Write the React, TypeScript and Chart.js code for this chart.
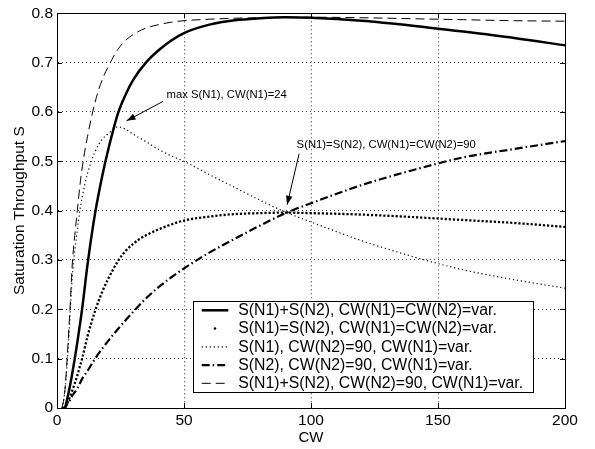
import React, { useEffect, useRef } from 'react';
import { Chart, registerables } from 'chart.js';

Chart.register(...registerables);

// ---- data ----
const cwValues = [2, 3, 4, 5, 6, 7, 8, 9, 10, 12, 15, 18, 20, 24, 27, 30, 35, 40, 45, 50, 60, 70, 80, 90, 100, 120, 140, 160, 180, 200];

// S(N1)+S(N2), CW(N1)=CW(N2)=var.
const sumEqual = [0, 0, 0.018, 0.042, 0.07, 0.1, 0.133, 0.168, 0.205, 0.29, 0.395, 0.475, 0.52, 0.597, 0.635, 0.665, 0.7, 0.725, 0.745, 0.76, 0.777, 0.786, 0.79, 0.792, 0.791, 0.785, 0.775, 0.763, 0.75, 0.735];
// S(N1)=S(N2), CW(N1)=CW(N2)=var.
const eachEqual = [0, 0, 0.009, 0.021, 0.035, 0.05, 0.066, 0.084, 0.102, 0.145, 0.197, 0.238, 0.26, 0.298, 0.318, 0.333, 0.35, 0.362, 0.372, 0.38, 0.388, 0.393, 0.395, 0.396, 0.395, 0.392, 0.387, 0.381, 0.375, 0.367];
// S(N1), CW(N2)=90, CW(N1)=var.
const sN1 = [0, 0.03, 0.092, 0.175, 0.265, 0.318, 0.36, 0.4, 0.43, 0.475, 0.52, 0.546, 0.555, 0.57, 0.565, 0.555, 0.54, 0.524, 0.511, 0.5, 0.473, 0.447, 0.421, 0.397, 0.377, 0.339, 0.307, 0.28, 0.26, 0.243];
// S(N2), CW(N2)=90, CW(N1)=var.
const sN2 = [0, 0, 0.008, 0.015, 0.025, 0.032, 0.04, 0.05, 0.06, 0.075, 0.1, 0.122, 0.135, 0.16, 0.178, 0.195, 0.222, 0.245, 0.265, 0.283, 0.315, 0.343, 0.37, 0.395, 0.415, 0.452, 0.482, 0.508, 0.525, 0.541];
// S(N1)+S(N2), CW(N2)=90, CW(N1)=var.
const sumFixed = [0, 0.03, 0.1, 0.19, 0.29, 0.35, 0.4, 0.45, 0.49, 0.55, 0.62, 0.668, 0.69, 0.727, 0.745, 0.757, 0.77, 0.777, 0.782, 0.785, 0.788, 0.79, 0.791, 0.792, 0.792, 0.791, 0.789, 0.787, 0.785, 0.784];

const seriesLabels = [
  'S(N1)+S(N2), CW(N1)=CW(N2)=var.',
  'S(N1)=S(N2), CW(N1)=CW(N2)=var.',
  'S(N1), CW(N2)=90, CW(N1)=var.',
  'S(N2), CW(N2)=90, CW(N1)=var.',
  'S(N1)+S(N2), CW(N2)=90, CW(N1)=var.',
];

const xTickValues = [0, 50, 100, 150, 200];
const xTickLabels = ['0', '50', '100', '150', '200'];
const yTickValues = [0, 0.1, 0.2, 0.3, 0.4, 0.5, 0.6, 0.7, 0.8];
const yTickLabels = ['0', '0.1', '0.2', '0.3', '0.4', '0.5', '0.6', '0.7', '0.8'];

const annotationMax = 'max S(N1), CW(N1)=24';
const annotationEqual = 'S(N1)=S(N2), CW(N1)=CW(N2)=90';

const FONT = '"Liberation Sans", Arial, Helvetica, sans-serif';

const styles = [
  { width: 2.5, dash: [] as number[] },
  { width: 2.3, dash: [2.2, 1.9] },
  { width: 1.2, dash: [1.2, 2.8] },
  { width: 2.2, dash: [8, 3, 1.5, 3] },
  { width: 1, dash: [9, 5] },
];

function drawArrow(ctx: CanvasRenderingContext2D, x1: number, y1: number, x2: number, y2: number) {
  ctx.beginPath();
  ctx.moveTo(x1, y1);
  ctx.lineTo(x2, y2);
  ctx.stroke();
  const a = Math.atan2(y2 - y1, x2 - x1);
  const L = 9;
  const W = 3.2;
  ctx.beginPath();
  ctx.moveTo(x2, y2);
  ctx.lineTo(x2 - L * Math.cos(a) + W * Math.sin(a), y2 - L * Math.sin(a) - W * Math.cos(a));
  ctx.lineTo(x2 - L * Math.cos(a) - W * Math.sin(a), y2 - L * Math.sin(a) + W * Math.cos(a));
  ctx.closePath();
  ctx.fill();
}

const overlayPlugin = {
  id: 'overlay',
  afterDraw(chart: any) {
    const { ctx, chartArea: ca, scales } = chart;
    const x = scales.x;
    const y = scales.y;
    ctx.save();
    ctx.strokeStyle = '#000';
    ctx.fillStyle = '#000';
    ctx.lineWidth = 1;
    ctx.setLineDash([]);
    // inward ticks
    const tl = 5;
    ctx.beginPath();
    xTickValues.forEach((v) => {
      const px = Math.round(x.getPixelForValue(v)) + 0.5;
      ctx.moveTo(px, ca.bottom);
      ctx.lineTo(px, ca.bottom - tl);
      ctx.moveTo(px, ca.top);
      ctx.lineTo(px, ca.top + tl);
    });
    yTickValues.forEach((v) => {
      const py = Math.round(y.getPixelForValue(v)) + 0.5;
      ctx.moveTo(ca.left, py);
      ctx.lineTo(ca.left + tl, py);
      ctx.moveTo(ca.right, py);
      ctx.lineTo(ca.right - tl, py);
    });
    ctx.stroke();
    ctx.strokeRect(Math.round(ca.left) + 0.5, Math.round(ca.top) + 0.5, Math.round(ca.width), Math.round(ca.height));

    // annotations
    ctx.font = `11.3px ${FONT}`;
    ctx.textBaseline = 'middle';
    ctx.textAlign = 'left';
    const t1x = x.getPixelForValue(27.4);
    const t1y = y.getPixelForValue(0.582);
    ctx.fillText(annotationMax, t1x + 40, t1y - 25.5);
    drawArrow(ctx, t1x + 36.5, t1y - 19.5, t1x, t1y);

    const t2x = x.getPixelForValue(90.6);
    const t2y = y.getPixelForValue(0.412);
    ctx.fillText(annotationEqual, t2x + 9.5, t2y - 60);
    drawArrow(ctx, t2x + 12, t2y - 51, t2x, t2y);

    // legend
    const bx = ca.left + 136;
    const by = ca.top + 288;
    const bw = 340;
    const bh = 91;
    ctx.fillStyle = '#fff';
    ctx.fillRect(bx, by, bw, bh);
    ctx.strokeStyle = '#000';
    ctx.lineWidth = 1;
    ctx.strokeRect(Math.round(bx) + 0.5, Math.round(by) + 0.5, bw, bh);
    ctx.font = `15.8px ${FONT}`;
    ctx.fillStyle = '#000';
    seriesLabels.forEach((label, i) => {
      const cy = by + 9 + i * 18.25;
      const st = styles[i];
      if (i === 1) {
        ctx.beginPath();
        ctx.arc(bx + 22, cy, 1.3, 0, Math.PI * 2);
        ctx.fill();
      } else {
        ctx.lineWidth = st.width;
        ctx.setLineDash(st.dash);
        ctx.beginPath();
        ctx.moveTo(bx + 8.7, cy);
        ctx.lineTo(bx + 35.3, cy);
        ctx.stroke();
        ctx.setLineDash([]);
      }
      ctx.fillText(label, bx + 45.3, cy + 0.5);
    });
    ctx.restore();
  },
};

export default function App() {
  const ref = useRef<HTMLCanvasElement | null>(null);

  useEffect(() => {
    if (!ref.current) return;
    Chart.defaults.font.family = FONT;
    Chart.defaults.color = '#000';
    const seriesData = [sumEqual, eachEqual, sN1, sN2, sumFixed];
    const chart = new Chart(ref.current, {
      type: 'line',
      data: {
        datasets: seriesData.map((vals, i) => ({
          label: seriesLabels[i],
          data: cwValues.map((c, j) => ({ x: c, y: vals[j] })),
          borderColor: '#000',
          backgroundColor: '#000',
          borderWidth: styles[i].width,
          borderDash: styles[i].dash,
          pointRadius: 0,
          fill: false,
          cubicInterpolationMode: 'monotone' as const,
        })),
      },
      options: {
        responsive: false,
        animation: false,
        events: [],
        layout: { padding: { left: 0, right: 30, top: 8, bottom: 0 } },
        plugins: {
          legend: { display: false },
          tooltip: { enabled: false },
        },
        scales: {
          x: {
            type: 'linear',
            min: 0,
            max: 200,
            afterFit: (s: any) => {
              s.height = 41;
            },
            afterBuildTicks: (s: any) => {
              s.ticks = xTickValues.map((v) => ({ value: v }));
            },
            ticks: {
              autoSkip: false,
              maxRotation: 0,
              padding: 3,
              font: { size: 15.5 },
              color: '#000',
              callback: (_v: any, i: number) => xTickLabels[i],
            },
            grid: { color: 'rgba(0,0,0,0.75)', lineWidth: 1, drawTicks: false },
            border: { display: true, color: '#000', dash: [1, 3] },
            title: { display: true, text: 'CW', font: { size: 15 }, color: '#000', padding: { top: 0, bottom: 2 } },
          },
          y: {
            type: 'linear',
            min: 0,
            max: 0.8,
            afterFit: (s: any) => {
              s.width = 57;
            },
            afterBuildTicks: (s: any) => {
              s.ticks = yTickValues.map((v) => ({ value: v }));
            },
            ticks: {
              autoSkip: false,
              padding: 4,
              font: { size: 15.5 },
              color: '#000',
              callback: (_v: any, i: number) => yTickLabels[i],
            },
            grid: { color: 'rgba(0,0,0,0.75)', lineWidth: 1, drawTicks: false },
            border: { display: true, color: '#000', dash: [1, 3] },
            title: { display: true, text: 'Saturation Throughput S', font: { size: 15.5 }, color: '#000', padding: { top: 10, bottom: 0 } },
          },
        },
      },
      plugins: [overlayPlugin],
    });
    return () => chart.destroy();
  }, []);

  return (
    <div style={{ position: 'fixed', left: 0, top: 0, width: 595, height: 449, background: '#fff' }}>
      <canvas ref={ref} width={595} height={449} style={{ display: 'block' }} />
    </div>
  );
}
